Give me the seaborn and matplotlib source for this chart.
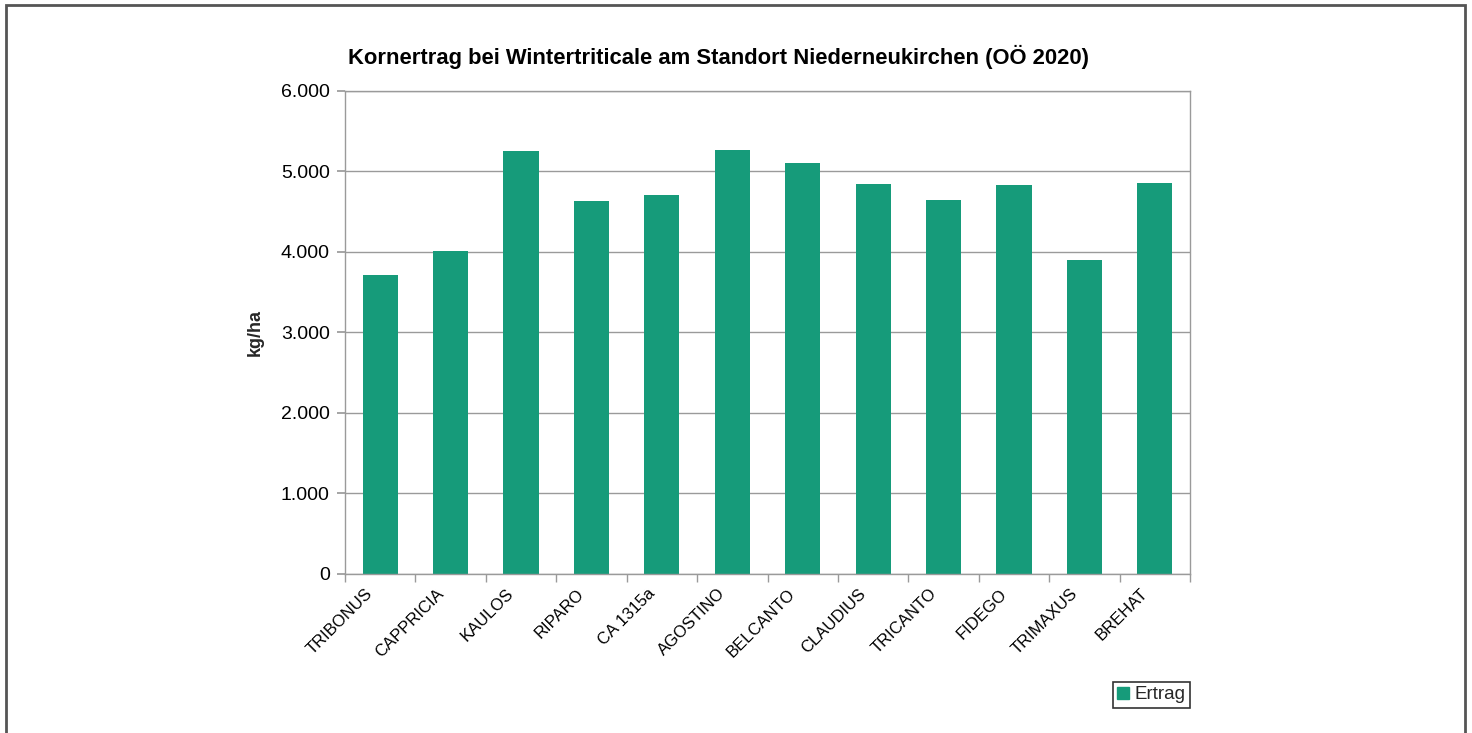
# Kornertrag Wintertriticale - Niederneukirchen 2020
import matplotlib
matplotlib.use("Agg")
import matplotlib.pyplot as plt
import matplotlib.transforms as mtrans
from matplotlib.patches import Patch, Rectangle
from matplotlib.ticker import FuncFormatter, FixedLocator
import seaborn as sns
import pandas as pd

sorten = ["TRIBONUS", "CAPPRICIA", "KAULOS", "RIPARO", "CA 1315a", "AGOSTINO",
          "BELCANTO", "CLAUDIUS", "TRICANTO", "FIDEGO", "TRIMAXUS", "BREHAT"]
ertrag = [3710, 4010, 5248, 4625, 4702, 5257, 5096, 4839, 4644, 4830, 3894, 4847]

df = pd.DataFrame({"Sorte": sorten, "Ertrag": ertrag})

sns.set_theme(style="white")
plt.rcParams["font.family"] = ["Liberation Sans", "DejaVu Sans"]

gruen = "#169B7A"
grau = "#9a9a9a"

fig = plt.figure(figsize=(14.72, 7.33), dpi=100)
ax = fig.add_axes([345 / 1472, 1 - 573.5 / 733, (1190 - 345) / 1472, (573.5 - 90.7) / 733])

sns.barplot(data=df, x="Sorte", y="Ertrag", color=gruen, width=0.5, ax=ax,
            saturation=1, edgecolor="none")

ax.set_ylim(0, 6000)
ax.set_xlim(-0.5, len(sorten) - 0.5)
ax.set_yticks(range(0, 6001, 1000))
ax.yaxis.set_major_formatter(FuncFormatter(lambda v, p: f"{int(v):,}".replace(",", ".")))
ax.yaxis.grid(True, color=grau, linewidth=1)
ax.set_axisbelow(True)

for s in ax.spines.values():
    s.set_visible(True)
    s.set_color(grau)
    s.set_linewidth(1)

# Striche zwischen den Kategorien
ax.xaxis.set_minor_locator(FixedLocator([i - 0.5 for i in range(len(sorten) + 1)]))
ax.tick_params(axis="x", which="major", length=0, labelsize=12, pad=9)
ax.tick_params(axis="x", which="minor", length=6, color=grau, bottom=True)
ax.tick_params(axis="y", length=6, color=grau, left=True, labelsize=14, pad=5)
verschiebung = mtrans.ScaledTranslation(-15 / 100, 0, fig.dpi_scale_trans)
for lab in ax.get_xticklabels():
    lab.set_rotation(45)
    lab.set_ha("right")
    lab.set_rotation_mode("anchor")
    lab.set_color("black")
    lab.set_transform(lab.get_transform() + verschiebung)
plt.setp(ax.get_yticklabels(), color="black")

ax.set_xlabel("")
ax.set_ylabel("kg/ha", fontsize=13, fontweight="bold", labelpad=12)
fig.text(718 / 1472, 1 - 57 / 733,
         "Kornertrag bei Wintertriticale am Standort Niederneukirchen (OÖ 2020)",
         fontsize=15.8, fontweight="bold", ha="center", va="center", color="black")

leg = fig.legend(handles=[Patch(color=gruen, label="Ertrag")], loc="lower right",
                 bbox_to_anchor=(1190 / 1472, 25 / 733), fontsize=13.5, fancybox=False,
                 handlelength=0.6, handleheight=0.6, handletextpad=0.3,
                 borderpad=0.25, borderaxespad=0)
leg.get_frame().set_edgecolor("black")
leg.get_frame().set_linewidth(1.2)

# Rahmen um das ganze Bild
fig.patches.append(Rectangle((6 / 1472, -0.05), (1465 - 6) / 1472, 1.05 - 5 / 733,
                             transform=fig.transFigure, fill=False,
                             edgecolor="#555555", linewidth=2))

plt.savefig("out.png", dpi=100)
plt.close()
